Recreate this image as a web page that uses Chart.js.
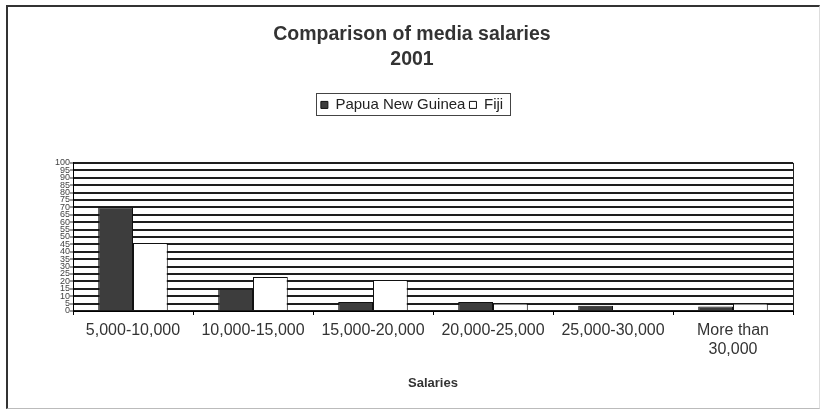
<!DOCTYPE html>
<html lang="en">
<head>
    <meta charset="UTF-8">
    <title>Comparison of media salaries</title>
    <script src="https://cdn.jsdelivr.net/npm/chart.js"></script>
    <style>
      body { margin: 0; background: #fff; overflow: hidden; }
      .wrap { position: relative; width: 820px; height: 417px; overflow: hidden; }
      .frame {
        position: absolute; left: 6px; top: 5px; width: 811px; height: 401px;
        border-top: 2px solid #333; border-left: 2px solid #333;
        border-right: 1px solid #ddd; border-bottom: 1px solid #bbb;
        pointer-events: none;
      }
    </style>
</head>
<body>
  <div class="wrap">
    <canvas id="myChart" width="846" height="417"></canvas>
    <div class="frame"></div>
  </div>

<script>
  const salarios = ['5,000-10,000', '10,000-15,000', '15,000-20,000', '20,000-25,000', '25,000-30,000', ['More than', '30,000']];
  const papua = [70, 15, 6, 6, 3.5, 3];
  const fiji = [46, 23, 21, 5, 0, 5];
  const yTicks = [0, 100, 5];  // min, max, step

  // caixa da legenda + borda direita da area do grafico
  const extras = {
    id: 'extras',
    afterDraw(chart) {
      const ctx = chart.ctx;
      const a = chart.chartArea;
      ctx.save();
      ctx.strokeStyle = '#222';
      ctx.lineWidth = 1;
      ctx.beginPath();
      ctx.moveTo(a.right + 0.5, a.top);
      ctx.lineTo(a.right + 0.5, a.bottom);
      ctx.stroke();

      const hb = chart.legend.legendHitBoxes;
      if (hb && hb.length) {
        const first = hb[0], last = hb[hb.length - 1];
        const x1 = Math.round(first.left - 5) + 0.5;
        const x2 = Math.round(last.left + last.width + 7) + 0.5;
        const y1 = Math.round(first.top - 4) + 0.5;
        const y2 = y1 + 22;
        ctx.strokeStyle = '#444';
        ctx.strokeRect(x1, y1, x2 - x1, y2 - y1);
      }
      ctx.restore();
    }
  };

  Chart.defaults.font.family = "'Liberation Sans', Arial, sans-serif";
  Chart.defaults.color = '#333';

  const dados = {
    labels: salarios,
    datasets: [{
      label: 'Papua New Guinea',
      data: papua,
      backgroundColor: '#3d3d3d',
      borderColor: '#111',
      borderWidth: 1
    }, {
      label: 'Fiji',
      data: fiji,
      backgroundColor: '#ffffff',
      borderColor: '#111',
      borderWidth: 1
    }]
  };

  const config = {
    type: 'bar',
    data: dados,
    options: {
      responsive: false,
      animation: false,
      layout: { padding: { top: 22.5, left: 31, right: 53, bottom: 22 } },
      datasets: { bar: { categoryPercentage: 0.58, barPercentage: 1.0 } },
      plugins: {
        title: {
          display: true,
          text: ['Comparison of media salaries', '2001'],
          font: { size: 19.5, weight: 'bold', lineHeight: 1.28 },
          color: '#333',
          padding: { top: 0, bottom: 21 }
        },
        subtitle: {
          display: true,
          text: ' ',
          weight: 500,
          font: { size: 2, lineHeight: 1 },
          padding: { top: 19, bottom: 19.5 }
        },
        legend: {
          display: true,
          labels: {
            boxWidth: 7,
            boxHeight: 7,
            padding: 4,
            color: '#222',
            font: { size: 15 }
          }
        },
        tooltip: { enabled: false }
      },
      scales: {
        x: {
          grid: { offset: true, drawOnChartArea: false, drawTicks: true, tickLength: 4, color: '#000', lineWidth: 1 },
          border: { display: true, color: '#000', width: 1 },
          ticks: { padding: 6, color: '#333', font: { size: 16, lineHeight: 1.2 }, maxRotation: 0, autoSkip: false },
          title: { display: true, text: 'Salaries', color: '#333', font: { size: 13, weight: 'bold' }, padding: { top: 10, bottom: 4 } }
        },
        y: {
          min: yTicks[0],
          max: yTicks[1],
          afterFit(scale) { scale.width = 42; },
          grid: { color: '#1e1e1e', lineWidth: 2, tickLength: 3, tickColor: '#333', tickWidth: 1 },
          border: { display: true, color: '#000', width: 1 },
          ticks: { stepSize: yTicks[2], autoSkip: false, padding: 0, color: '#444', font: { size: 9, lineHeight: 1 } }
        }
      }
    },
    plugins: [extras]
  };

  const myChart = new Chart(document.getElementById('myChart'), config);
</script>
</body>
</html>
